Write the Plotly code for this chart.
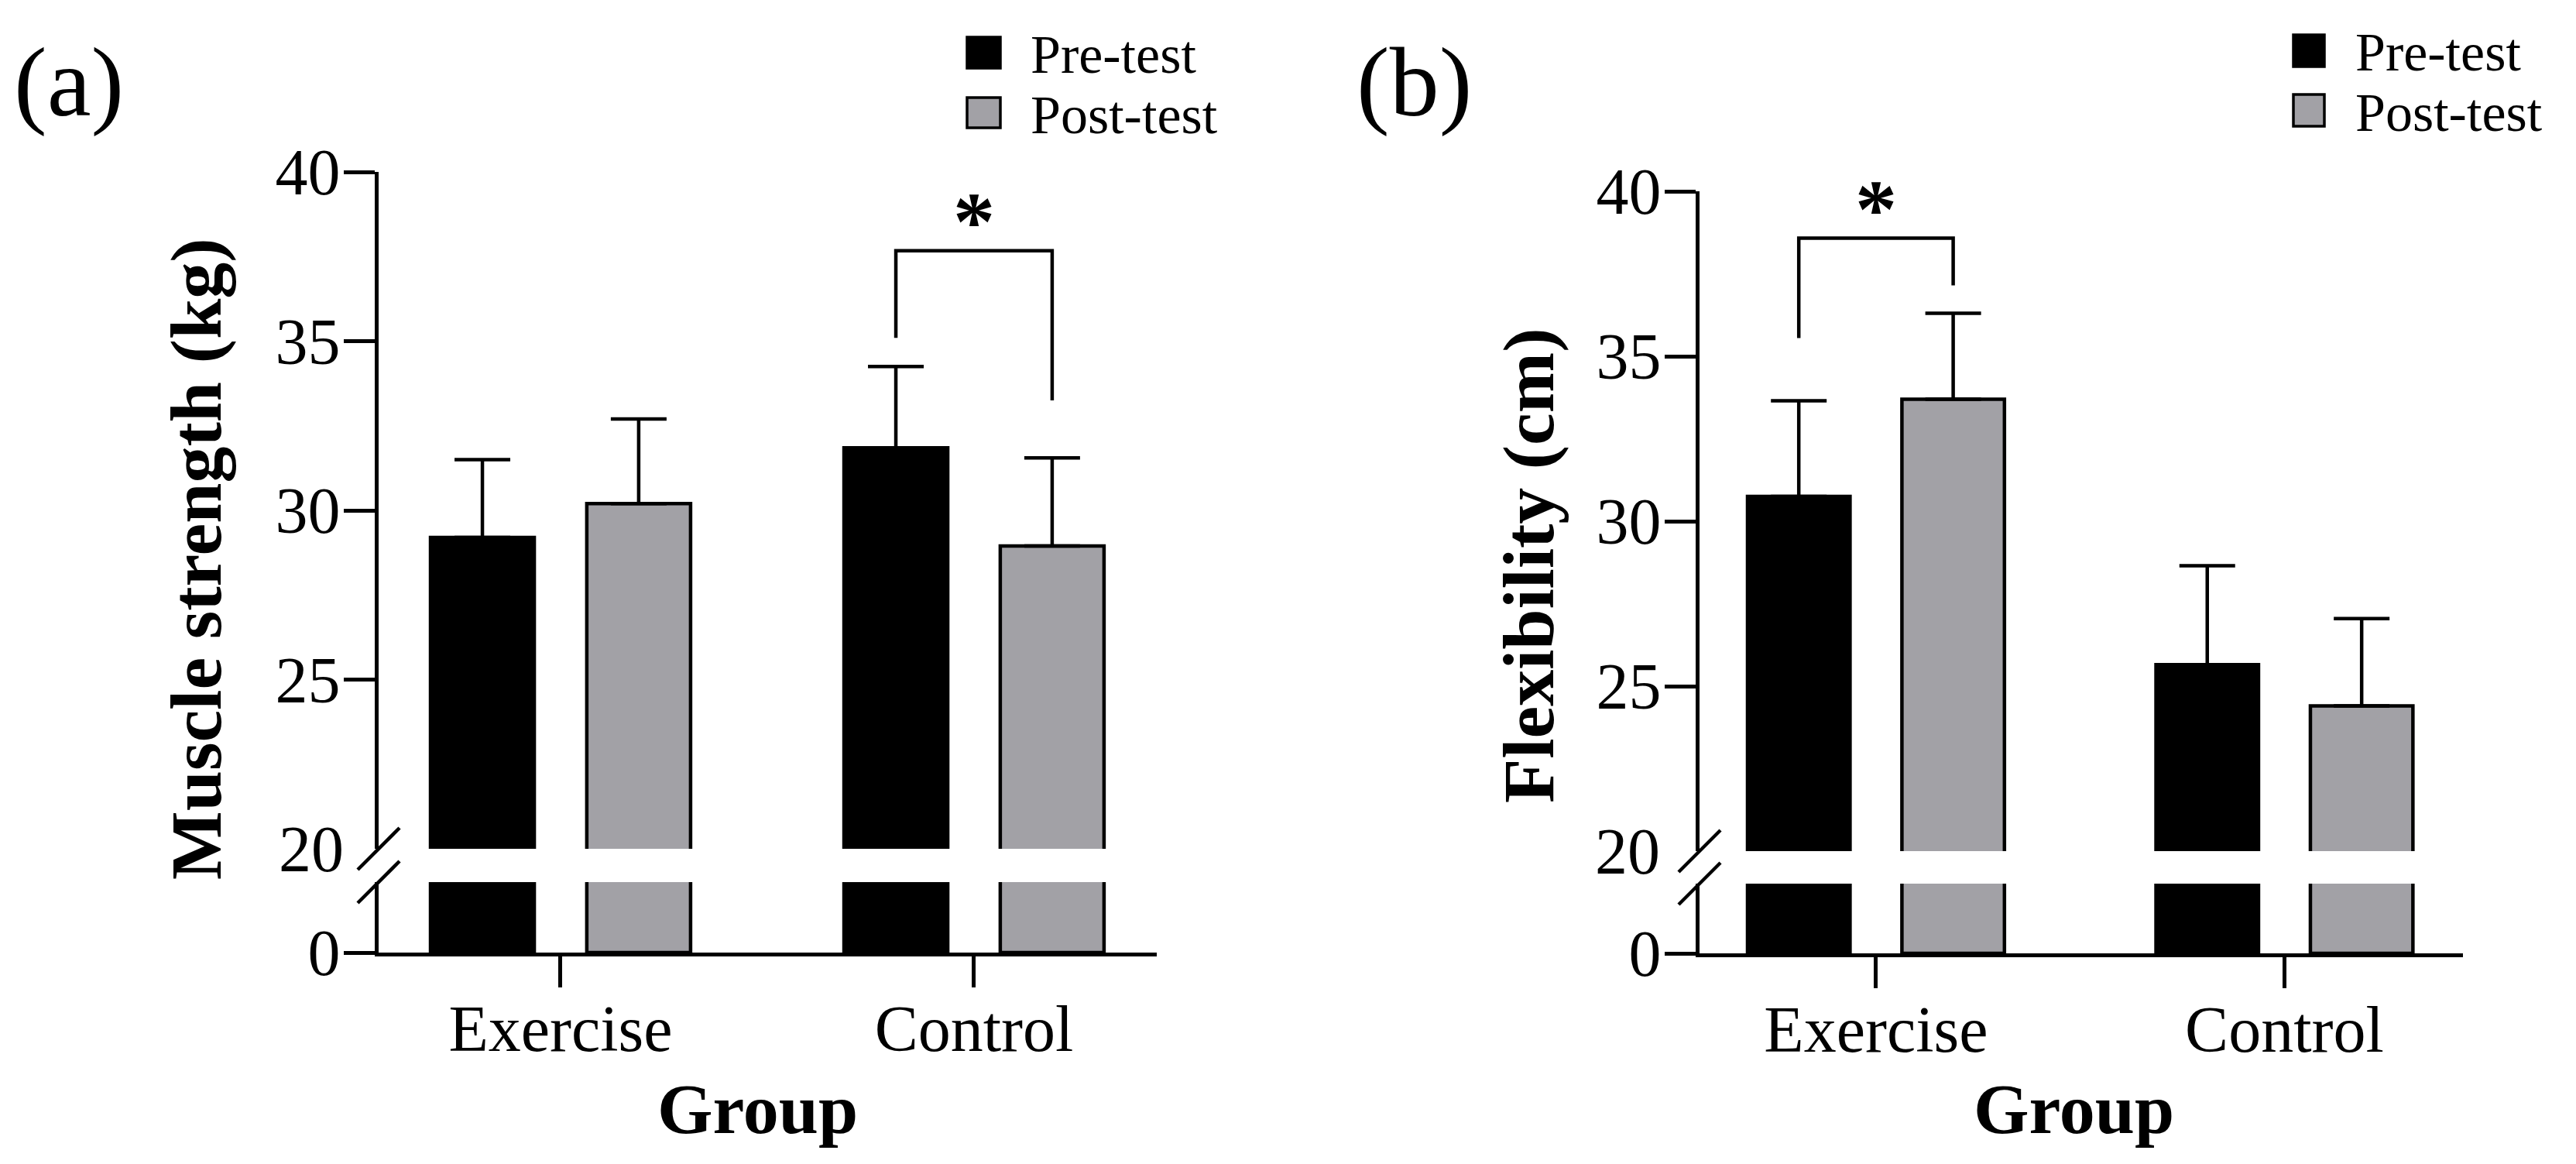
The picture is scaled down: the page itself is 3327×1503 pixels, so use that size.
import plotly.graph_objects as go

# ---------------- data ----------------
groups = ["Exercise", "Control"]
series_names = ["Pre-test", "Post-test"]

strength_pre = [29.2, 31.85]
strength_pre_sd = [2.3, 2.4]
strength_post = [30.2, 28.95]
strength_post_sd = [2.5, 2.6]

flex_pre = [30.75, 25.65]
flex_pre_sd = [2.9, 3.0]
flex_post = [33.7, 24.4]
flex_post_sd = [2.6, 2.65]

# significance brackets: [left leg end, bracket top, right leg end]
sig_group_a = 1
sig_bracket_a = [35.1, 37.67, 33.25]
sig_group_b = 0
sig_bracket_b = [35.55, 38.58, 37.15]

y_ticks_top = [25, 30, 35, 40]
y_ticks_bottom = [0]

# ---------------- style ----------------
W, H = 3327, 1503
FONT = "Liberation Serif, Times New Roman, serif"
BLACK = "#000000"
GRAY = "#a2a1a6"
LW = 4.5
TICK_FS = 84
BARGAP = 0.244
BARGROUPGAP = 0.336
OFF = (1 - BARGAP) / 4.0


def fx(p):
    return p / W


def fy(p):
    return 1 - p / H


x_idx = list(range(len(groups)))

fig = go.Figure()


def add_panel(xa, ytop, ybot, pre, pre_sd, post, post_sd):
    for yax, with_err in ((ytop, True), (ybot, False)):
        for name, vals, sd, col in ((series_names[0], pre, pre_sd, BLACK),
                                    (series_names[1], post, post_sd, GRAY)):
            kw = {}
            if with_err:
                kw["error_y"] = dict(type="data", array=sd, arrayminus=[0] * len(sd),
                                     symmetric=False, width=36, thickness=LW,
                                     color=BLACK)
            fig.add_trace(go.Bar(x=x_idx, y=vals, name=name, xaxis=xa, yaxis=yax,
                                 marker=dict(color=col, line=dict(color=BLACK, width=LW)),
                                 showlegend=False, **kw))


add_panel("x", "y", "y2", strength_pre, strength_pre_sd, strength_post, strength_post_sd)
add_panel("x2", "y3", "y4", flex_pre, flex_pre_sd, flex_post, flex_post_sd)


def add_bracket(xa, ya, g, br):
    fig.add_trace(go.Scatter(x=[g - OFF, g - OFF, g + OFF, g + OFF],
                             y=[br[0], br[1], br[1], br[2]], mode="lines",
                             line=dict(color=BLACK, width=LW), xaxis=xa, yaxis=ya,
                             showlegend=False, cliponaxis=False, hoverinfo="skip"))
    fig.add_annotation(x=g, y=br[1], xref=xa, yref=ya, text="<b>*</b>", showarrow=False,
                       yanchor="middle", yshift=37,
                       font=dict(family=FONT, size=108, color=BLACK))


add_bracket("x", "y", sig_group_a, sig_bracket_a)
add_bracket("x2", "y3", sig_group_b, sig_bracket_b)

axis_common = dict(showgrid=False, zeroline=False, showline=True, linecolor=BLACK,
                   linewidth=LW, ticks="outside", ticklen=40, tickwidth=LW,
                   automargin=False,
                   tickcolor=BLACK, tickfont=dict(family=FONT, size=TICK_FS, color=BLACK))

# domains (paper fractions) of the broken-axis segments
xa_dom = [fx(489), fx(1494)]
ya_top_dom = [fy(1096), fy(222)]
ya_bot_dom = [fy(1230), fy(1139)]
xb_dom = [fx(2195), fx(3181)]
yb_top_dom = [fy(1099), fy(247)]
yb_bot_dom = [fy(1231), fy(1141)]

fig.update_layout(
    template="none",
    width=W, height=H, margin=dict(l=0, r=0, t=0, b=0, pad=0, autoexpand=False),
    paper_bgcolor="white", plot_bgcolor="white",
    barmode="group", bargap=BARGAP, bargroupgap=BARGROUPGAP,
    showlegend=False,
    xaxis=dict(domain=xa_dom, range=[-0.44, 1.442], anchor="y2",
               tickvals=x_idx, ticktext=groups, ticklabelstandoff=-19, **axis_common),
    yaxis=dict(domain=ya_top_dom, range=[20, 40], anchor="x",
               tickvals=y_ticks_top, ticklabelstandoff=-12, **axis_common),
    yaxis2=dict(domain=ya_bot_dom, range=[0, 2.082], anchor="x",
                tickvals=y_ticks_bottom, ticklabelstandoff=-12, **axis_common),
    xaxis2=dict(domain=xb_dom, range=[-0.432, 1.437], anchor="y4",
                tickvals=x_idx, ticktext=groups, ticklabelstandoff=-19, **axis_common),
    yaxis3=dict(domain=yb_top_dom, range=[20, 40], anchor="x2",
                tickvals=y_ticks_top, ticklabelstandoff=-12, **axis_common),
    yaxis4=dict(domain=yb_bot_dom, range=[0, 2.113], anchor="x2",
                tickvals=y_ticks_bottom, ticklabelstandoff=-12, **axis_common),
)

# break marks (at the segment ends) and the "20" label at each break
for xdom, top_dom, bot_dom, ytop_ref, lab_x in (
        (xa_dom, ya_top_dom, ya_bot_dom, "y", 446),
        (xb_dom, yb_top_dom, yb_bot_dom, "y3", 2146)):
    for yv in (top_dom[0], bot_dom[1]):
        fig.add_shape(type="line", xref="paper", yref="paper", xsizemode="pixel",
                      ysizemode="pixel", xanchor=xdom[0], yanchor=yv,
                      x0=-27, x1=27, y0=-27, y1=27,
                      line=dict(color=BLACK, width=LW))
    fig.add_annotation(x=fx(lab_x), y=20, xref="paper", yref=ytop_ref, text="20",
                       showarrow=False, xanchor="right", yanchor="middle",
                       font=dict(family=FONT, size=TICK_FS, color=BLACK))

# axis titles
for x, y, txt in ((253, 722, "Muscle strength (kg)"), (1974, 730, "Flexibility (cm)")):
    fig.add_annotation(x=fx(x), y=fy(y), xref="paper", yref="paper",
                       text="<b>" + txt + "</b>", textangle=-90, showarrow=False,
                       xanchor="center", yanchor="middle",
                       font=dict(family=FONT, size=94, color=BLACK))
for x in (978, 2678):
    fig.add_annotation(x=fx(x), y=fy(1432), xref="paper", yref="paper",
                       text="<b>Group</b>", showarrow=False, xanchor="center",
                       yanchor="middle", font=dict(family=FONT, size=92, color=BLACK))

# panel labels
for x, txt in ((16, "(a)"), (1750, "(b)")):
    fig.add_annotation(x=fx(x), y=fy(106), xref="paper", yref="paper", text=txt,
                       showarrow=False, xanchor="left", yanchor="middle",
                       font=dict(family=FONT, size=128, color=BLACK))

# legends
for sx0, sx1, tx, rows in ((1249, 1292, 1329, ((48, 88, 70), (126, 165, 148))),
                           (2962, 3002, 3040, ((45, 86, 68), (122, 163, 145)))):
    for (y0, y1, ty), name, col in zip(rows, series_names, (BLACK, GRAY)):
        fig.add_shape(type="rect", xref="paper", yref="paper",
                      x0=fx(sx0), x1=fx(sx1), y0=fy(y1), y1=fy(y0),
                      fillcolor=col, line=dict(color=BLACK, width=3.5))
        fig.add_annotation(x=fx(tx), y=fy(ty), xref="paper", yref="paper", text=name,
                           showarrow=False, xanchor="left", yanchor="middle",
                           font=dict(family=FONT, size=70, color=BLACK))

fig.write_html("out.html", post_script="document.body.style.margin='0px';",
               config={"displayModeBar": False})
